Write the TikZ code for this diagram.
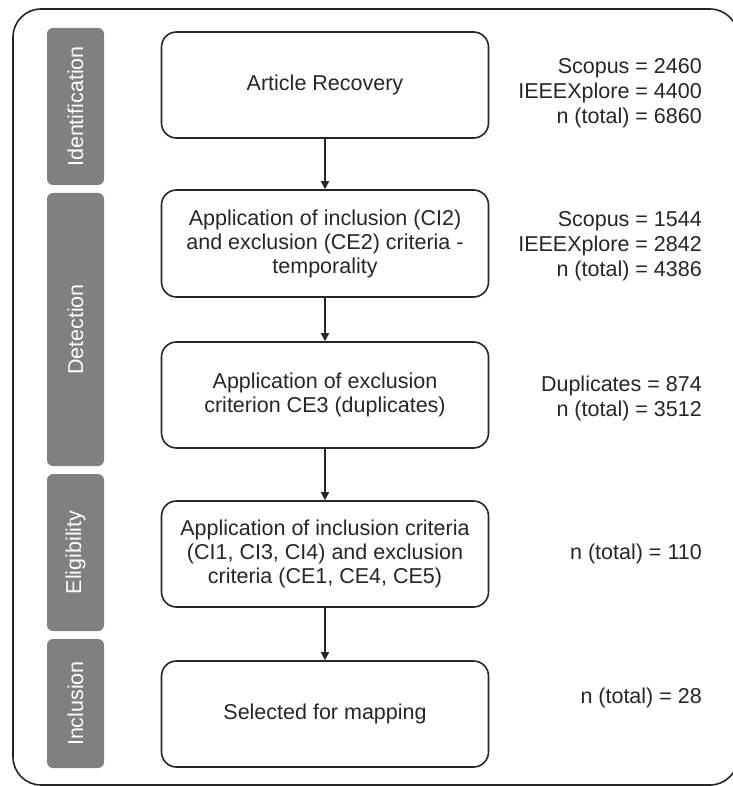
\documentclass[tikz,border=0pt]{standalone}
\usepackage{fontspec}
\setmainfont{Liberation Sans}
\usetikzlibrary{arrows.meta}
\definecolor{txt}{HTML}{262626}
\definecolor{edge}{HTML}{262626}
\definecolor{bar}{HTML}{808080}
\begin{document}
\begin{tikzpicture}[x=1pt,y=-1pt,
  stepbox/.style={draw=edge, line width=1.6pt, rounded corners=15pt,
    minimum width=327pt, minimum height=106pt, align=center, text=txt,
    font=\fontsize{21.5}{24}\selectfont, inner sep=0pt},
  phase/.style={fill=bar, rounded corners=6pt, text=white, rotate=90,
    minimum height=57pt, inner sep=0pt, font=\fontsize{21.5}{24.5}\selectfont},
  count/.style={anchor=east, align=right, text=txt, inner sep=0pt,
    font=\fontsize{21.5}{25}\selectfont},
  flow/.style={draw=edge, line width=1.5pt, -{Triangle[length=8pt,width=8pt]}}]
\useasboundingbox (0,0) rectangle (732,786);
\draw[draw=edge, line width=1.6pt, rounded corners=28pt] (13,9) rectangle (738,785);

\node[phase, minimum width=157pt] (pid) at (75.5,106.5) {Identification};
\node[phase, minimum width=273pt] (pde) at (75.5,329.5) {Detection};
\node[phase, minimum width=157pt] (pel) at (75.5,552.5) {Eligibility};
\node[phase, minimum width=129pt] (pin) at (75.5,703.5) {Inclusion};

\node[stepbox] (b1) at (325,85) {Article Recovery};
\node[stepbox, minimum height=107pt] (b2) at (325,243.5) {Application of inclusion (CI2)\\and exclusion (CE2) criteria -\\temporality};
\node[stepbox] (b3) at (325,395) {Application of exclusion\\criterion CE3 (duplicates)};
\node[stepbox] (b4) at (325,554) {Application of inclusion criteria\\(CI1, CI3, CI4) and exclusion\\criteria (CE1, CE4, CE5)};
\node[stepbox] (b5) at (325,714) {Selected for mapping};

\draw[flow] (b1) -- (b2);
\draw[flow] (b2) -- (b3);
\draw[flow] (b3) -- (b4);
\draw[flow] (b4) -- (b5);

\node[count] (c1) at (702,93) {Scopus = 2460\\IEEEXplore = 4400\\n (total) = 6860};
\node[count] (c2) at (702,246) {Scopus = 1544\\IEEEXplore = 2842\\n (total) = 4386};
\node[count] (c3) at (702,398.5) {Duplicates = 874\\n (total) = 3512};
\node[count] (c4) at (702,554) {n (total) = 110};
\node[count] (c5) at (702,698) {n (total) = 28};
\end{tikzpicture}
\end{document}
